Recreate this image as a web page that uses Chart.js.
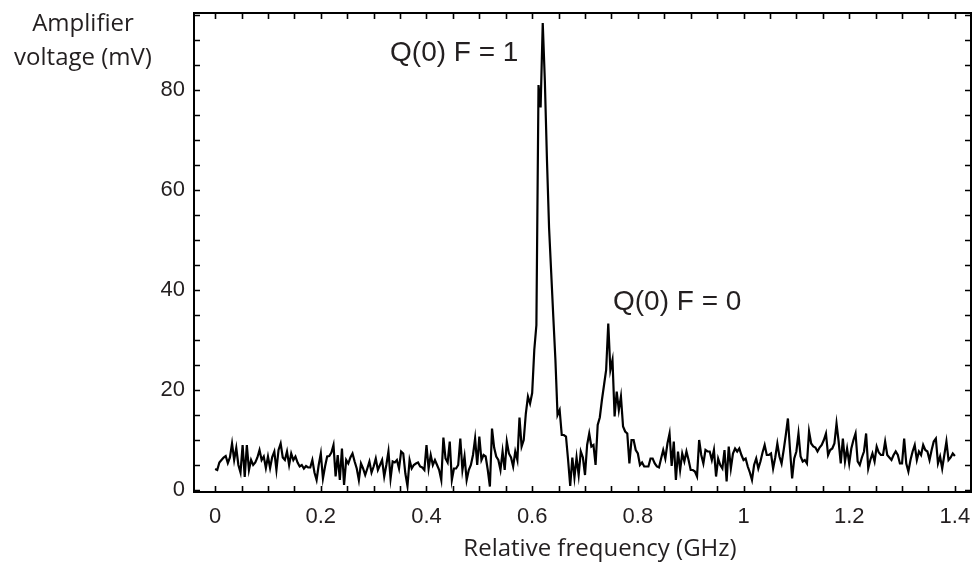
<!DOCTYPE html>
<html>
<head>
<meta charset="utf-8">
<script src="https://cdn.jsdelivr.net/npm/chart.js@4/dist/chart.umd.min.js"></script>
<style>
  html, body { margin: 0; padding: 0; background: #fff; }
  #wrap { width: 974px; height: 562px; }
</style>
</head>
<body>
<div id="wrap"><canvas id="myChart" width="974" height="562"></canvas></div>
<script>
const freqStart = 0
const freqStep = 0.004
const voltage = [
  // 0.000 - 0.096
  4.2, 4.0, 5.5, 6.0, 6.5, 6.8, 5.4, 6.5, 9.3, 6.0, 8.4, 5.0, 3.5, 9.0, 2.6, 9.0, 4.0, 6.0, 5.0, 5.5, 6.5, 8.0, 6.0, 6.7, 4.4,
  // 0.100 - 0.196
  6.7, 4.4, 6.6, 7.7, 4.0, 8.0, 9.3, 6.5, 6.0, 7.7, 5.0, 7.3, 6.0, 6.7, 5.5, 4.7, 5.0, 4.3, 4.8, 4.5, 4.5, 6.0, 3.5, 2.0, 5.0,
  // 0.200 - 0.296
  7.3, 2.3, 4.7, 6.7, 6.8, 7.5, 9.0, 2.7, 7.0, 2.0, 8.3, 1.0, 6.0, 5.3, 6.5, 7.3, 5.7, 4.3, 2.0, 5.3, 4.3, 3.0, 4.3, 5.7, 3.5,
  // 0.300 - 0.396
  4.7, 6.3, 4.0, 5.0, 6.0, 2.7, 5.0, 7.7, 2.3, 5.7, 5.5, 6.0, 4.3, 7.7, 7.3, 3.3, 0.8, 6.0, 4.3, 5.0, 5.3, 5.5, 4.7, 4.5, 4.0,
  // 0.400 - 0.496
  9.0, 4.3, 7.0, 5.0, 6.0, 5.0, 4.0, 2.0, 10.5, 6.3, 5.5, 9.7, 2.0, 4.3, 4.3, 5.0, 10.3, 4.0, 6.7, 2.0, 4.0, 5.0, 7.0, 10.3, 5.0,
  // 0.500 - 0.596
  10.7, 6.0, 7.0, 6.7, 4.0, 0.7, 12.3, 8.5, 6.7, 6.0, 4.0, 7.7, 4.0, 9.7, 7.3, 6.5, 4.7, 7.7, 6.0, 14.5, 8.7, 10.0, 15.3, 18.7, 17.3,
  // 0.600 - 0.696  Q(0) F = 1
  19.4, 28.0, 33.0, 81.0, 76.5, 93.4, 81.8, 66.0, 52.4, 43.5, 34.6, 26.0, 15.0, 16.0, 11.0, 11.0, 10.7, 6.0, 0.8, 6.5, 2.5, 6.5, 3.0, 7.7, 6.5,
  // 0.700 - 0.796  Q(0) F = 0
  3.0, 9.0, 11.3, 8.7, 9.0, 5.0, 13.0, 14.5, 18.0, 21.0, 24.0, 33.3, 24.0, 26.0, 14.7, 19.7, 16.0, 18.7, 12.7, 11.7, 11.3, 5.3, 10.0, 10.0, 8.0,
  // 0.800 - 0.896
  7.3, 5.0, 5.5, 4.7, 4.7, 4.7, 6.3, 6.3, 5.3, 4.7, 4.5, 6.3, 8.0, 6.3, 9.3, 11.3, 4.8, 9.7, 2.0, 7.7, 4.0, 7.3, 5.7, 7.7, 6.0,
  // 0.900 - 0.996
  4.0, 4.0, 3.7, 2.7, 10.0, 7.0, 5.3, 8.0, 7.7, 7.7, 6.0, 8.0, 2.7, 6.3, 5.0, 4.3, 8.0, 1.7, 8.7, 4.3, 7.3, 8.3, 7.7, 8.3, 7.0,
  // 1.000 - 1.096
  6.0, 6.3, 4.7, 3.5, 2.0, 5.0, 6.3, 4.3, 5.7, 7.5, 9.0, 7.0, 7.0, 7.3, 4.3, 6.5, 9.3, 6.7, 5.3, 8.0, 11.0, 14.3, 8.0, 2.3, 6.3,
  // 1.100 - 1.196
  7.7, 11.3, 6.7, 5.7, 6.0, 5.3, 11.7, 9.3, 8.7, 8.5, 7.7, 8.5, 9.0, 10.0, 11.3, 7.0, 8.0, 8.3, 9.3, 13.3, 9.7, 5.3, 10.3, 5.7, 8.3,
  // 1.200 - 1.296
  5.3, 8.3, 10.0, 11.3, 5.7, 5.0, 6.5, 7.7, 11.3, 4.3, 6.0, 7.3, 5.7, 8.7, 7.5, 7.0, 7.0, 9.7, 7.0, 6.5, 6.0, 7.0, 7.7, 7.0, 5.3,
  // 1.300 - 1.400
  5.3, 10.3, 5.3, 3.7, 6.0, 7.7, 9.0, 6.0, 7.7, 7.0, 9.0, 8.0, 7.7, 6.0, 8.0, 9.7, 10.3, 5.3, 6.7, 4.3, 7.0, 9.7, 6.0, 6.5, 7.3,
  6.8
]
const freqs = voltage.map((v, i) => +(freqStart + i * freqStep).toFixed(3))

const xTicks = [0, 0.2, 0.4, 0.6, 0.8, 1, 1.2, 1.4]
const yTicks = [0, 20, 40, 60, 80]
const xMinorStep = 0.05
const yMinorStep = 5

const peakLabels = [
  { text: "Q(0) F = 1", x: 0.331, y: 87.4 },
  { text: "Q(0) F = 0", x: 0.753, y: 37.6 }
]

const tickFont = { family: "'Liberation Sans', Arial, sans-serif", size: 22 }
const textColor = "#231f20"

// frame, inward ticks on all four sides, titles and peak labels
const decor = {
  id: "decor",
  afterDraw(chart) {
    const ctx = chart.ctx
    const a = chart.chartArea
    const sx = chart.scales.x
    const sy = chart.scales.y
    ctx.save()
    ctx.strokeStyle = "#000"
    ctx.lineWidth = 2
    ctx.strokeRect(a.left, a.top, a.right - a.left, a.bottom - a.top)
    ctx.lineWidth = 1.6
    ctx.beginPath()
    for (let v = 0; v <= 1.4001; v += xMinorStep) {
      const px = Math.round(sx.getPixelForValue(v)) + 0.5
      ctx.moveTo(px, a.bottom); ctx.lineTo(px, a.bottom - 6)
      ctx.moveTo(px, a.top); ctx.lineTo(px, a.top + 6)
    }
    for (let v = 0; v <= 95.01; v += yMinorStep) {
      const py = Math.round(sy.getPixelForValue(v)) + 0.5
      ctx.moveTo(a.left, py); ctx.lineTo(a.left + 6, py)
      ctx.moveTo(a.right, py); ctx.lineTo(a.right - 6, py)
    }
    ctx.stroke()

    ctx.fillStyle = textColor
    ctx.textAlign = "center"
    ctx.textBaseline = "middle"
    ctx.font = "24px 'Open Sans', sans-serif"
    ctx.fillText("Amplifier", 83, 24)
    ctx.fillText("voltage (mV)", 83, 58)
    ctx.fillText("Relative frequency (GHz)", 600, 549)

    ctx.font = "28px 'Liberation Sans', Arial, sans-serif"
    ctx.textAlign = "left"
    peakLabels.forEach(p => {
      ctx.fillText(p.text, sx.getPixelForValue(p.x), sy.getPixelForValue(p.y))
    })
    ctx.restore()
  }
}

const ctx = document.getElementById("myChart").getContext("2d")
const myChart = new Chart(ctx, {
  type: "line",
  data: {
    datasets: [{
      data: freqs.map((f, i) => ({ x: f, y: voltage[i] })),
      borderColor: "#000",
      borderWidth: 2.2,
      pointRadius: 0,
      tension: 0,
      fill: false
    }]
  },
  options: {
    responsive: false,
    animation: false,
    layout: { padding: { left: 0, top: 13, right: 3, bottom: 0 } },
    plugins: {
      legend: { display: false },
      tooltip: { enabled: false }
    },
    scales: {
      x: {
        type: "linear",
        min: -0.04,
        max: 1.4305,
        afterBuildTicks: s => { s.ticks = xTicks.map(v => ({ value: v })) },
        afterFit: s => { s.height = 70; s.paddingLeft = 0; s.paddingRight = 0 },
        grid: { display: false, drawTicks: false },
        border: { display: false },
        ticks: {
          font: tickFont,
          color: textColor,
          padding: 12,
          maxRotation: 0,
          callback: v => String(v)
        }
      },
      y: {
        type: "linear",
        min: -0.4,
        max: 95.4,
        afterBuildTicks: s => { s.ticks = yTicks.map(v => ({ value: v })) },
        afterFit: s => { s.width = 194; s.paddingTop = 0; s.paddingBottom = 0 },
        grid: { display: false, drawTicks: false },
        border: { display: false },
        ticks: {
          font: tickFont,
          color: textColor,
          padding: 9
        }
      }
    }
  },
  plugins: [decor]
})
</script>
</body>
</html>
